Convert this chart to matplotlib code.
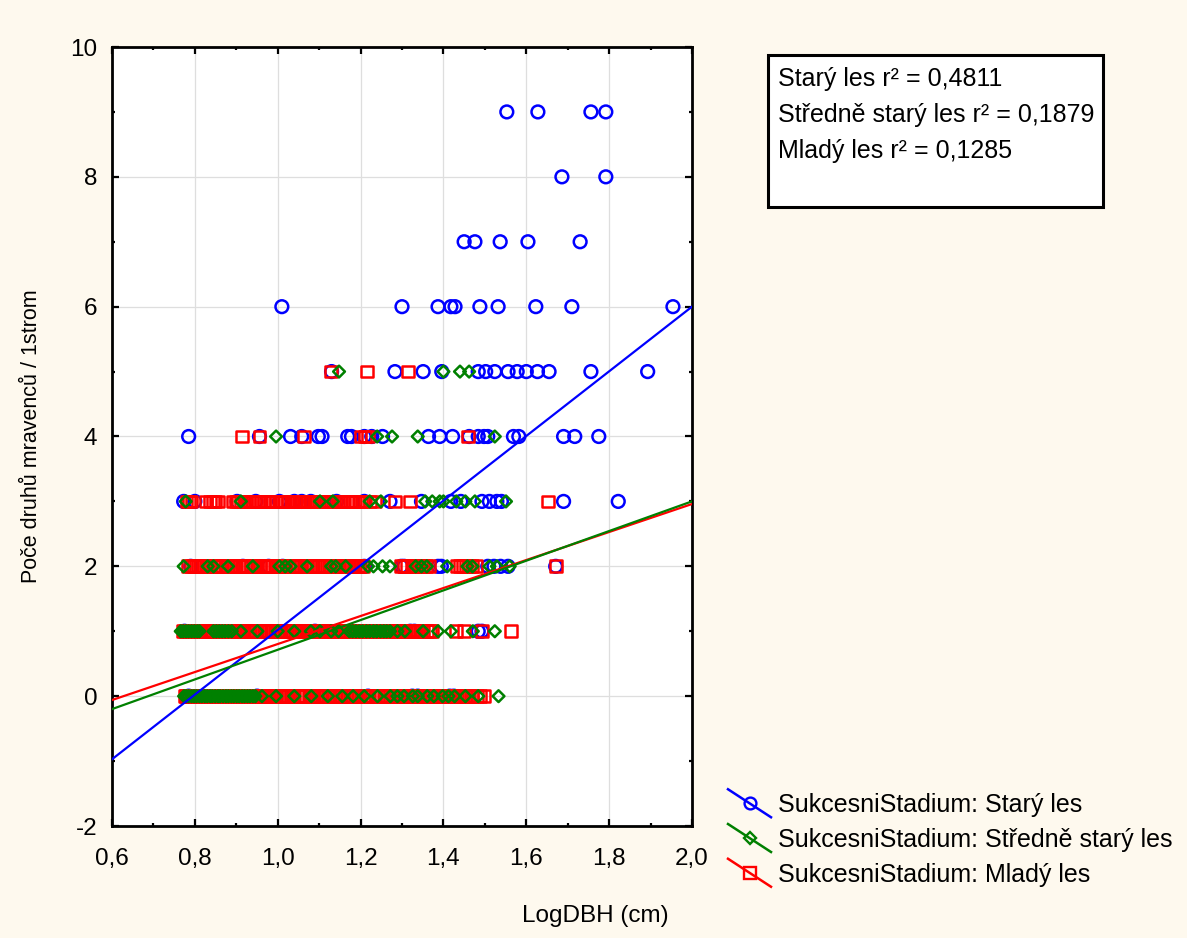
import matplotlib
matplotlib.use("Agg")
import matplotlib.pyplot as plt
from matplotlib.lines import Line2D
from matplotlib.patches import Rectangle
from matplotlib.legend_handler import HandlerBase
from matplotlib.ticker import MultipleLocator, FuncFormatter

plt.rcParams['font.family'] = ['Liberation Sans', 'DejaVu Sans']

# --- data: LogDBH values of trees, grouped by number of ant species per tree ---
stary_les = {
    0: [0.785, 0.950, 1.218, 1.325, 1.338, 1.415, 1.425],
    1: [0.775, 1.090, 1.320, 1.330, 1.484, 1.493],
    2: [0.790, 0.916, 0.978, 1.012, 1.209, 1.298, 1.305, 1.387, 1.395, 1.507,
        1.522, 1.538, 1.556, 1.671],
    3: [0.773, 0.800, 0.902, 0.947, 1.004, 1.040, 1.058, 1.080, 1.142, 1.209,
        1.271, 1.347, 1.418, 1.442, 1.493, 1.511, 1.529, 1.540, 1.690, 1.822],
    4: [0.785, 0.956, 1.031, 1.058, 1.098, 1.107, 1.169, 1.178, 1.209, 1.227,
        1.253, 1.364, 1.391, 1.422, 1.462, 1.484, 1.498, 1.507, 1.569, 1.582,
        1.690, 1.717, 1.775],
    5: [1.130, 1.283, 1.351, 1.396, 1.484, 1.502, 1.524, 1.556, 1.578, 1.600,
        1.627, 1.655, 1.756, 1.893],
    6: [1.010, 1.300, 1.387, 1.418, 1.428, 1.488, 1.532, 1.623, 1.710, 1.954],
    7: [1.450, 1.476, 1.537, 1.604, 1.730],
    8: [1.686, 1.792],
    9: [1.553, 1.628, 1.756, 1.792],
}

mlady_les = {
    0: [0.775, 0.778, 0.782, 0.786, 0.791, 0.795, 0.799, 0.803, 0.809, 0.813,
        0.818, 0.822, 0.827, 0.833, 0.837, 0.841, 0.846, 0.851, 0.858, 0.863,
        0.869, 0.874, 0.879, 0.886, 0.891, 0.897, 0.901, 0.905, 0.912, 0.919,
        0.923, 0.928, 0.934, 0.940, 0.947, 0.952, 0.958, 0.963, 0.969, 0.973,
        0.977, 0.984, 0.991, 0.996, 1.003, 1.007, 1.012, 1.018, 1.024, 1.031,
        1.038, 1.046, 1.051, 1.058, 1.063, 1.069, 1.077, 1.083, 1.089, 1.096,
        1.102, 1.108, 1.114, 1.121, 1.126, 1.132, 1.140, 1.147, 1.153, 1.161,
        1.168, 1.174, 1.180, 1.186, 1.193, 1.200, 1.207, 1.213, 1.219, 1.228,
        1.236, 1.242, 1.249, 1.258, 1.264, 1.271, 1.277, 1.283, 1.289, 1.294,
        1.300, 1.305, 1.311, 1.318, 1.323, 1.329, 1.337, 1.344, 1.351, 1.357,
        1.362, 1.368, 1.373, 1.380, 1.386, 1.392, 1.398, 1.404, 1.409, 1.415,
        1.421, 1.428, 1.437, 1.442, 1.448, 1.455, 1.462, 1.470, 1.481, 1.489,
        1.497],
    1: [0.772, 0.776, 0.780, 0.789, 0.793, 0.798, 0.806, 0.811, 0.815, 0.822,
        0.829, 0.834, 0.838, 0.844, 0.850, 0.857, 0.862, 0.866, 0.871, 0.878,
        0.883, 0.889, 0.895, 0.901, 0.907, 0.913, 0.919, 0.926, 0.931, 0.937,
        0.942, 0.948, 0.955, 0.961, 0.968, 0.973, 0.979, 0.986, 0.992, 0.999,
        1.004, 1.009, 1.017, 1.023, 1.029, 1.035, 1.041, 1.046, 1.052, 1.057,
        1.061, 1.067, 1.072, 1.078, 1.084, 1.093, 1.099, 1.105, 1.114, 1.120,
        1.127, 1.132, 1.138, 1.146, 1.152, 1.159, 1.163, 1.168, 1.174, 1.179,
        1.185, 1.191, 1.198, 1.204, 1.213, 1.219, 1.226, 1.234, 1.241, 1.247,
        1.256, 1.262, 1.268, 1.273, 1.279, 1.285, 1.291, 1.296, 1.302, 1.308,
        1.314, 1.320, 1.326, 1.333, 1.339, 1.345, 1.352, 1.360, 1.367, 1.373,
        1.431, 1.449, 1.493, 1.564],
    2: [0.784, 0.790, 0.797, 0.802, 0.808, 0.815, 0.821, 0.829, 0.836, 0.843,
        0.847, 0.852, 0.859, 0.866, 0.874, 0.880, 0.887, 0.892, 0.898, 0.906,
        0.914, 0.921, 0.929, 0.936, 0.943, 0.951, 0.957, 0.964, 0.968, 0.973,
        0.979, 0.985, 0.996, 1.002, 1.008, 1.013, 1.019, 1.027, 1.034, 1.041,
        1.049, 1.056, 1.063, 1.067, 1.072, 1.079, 1.086, 1.094, 1.100, 1.107,
        1.112, 1.118, 1.126, 1.133, 1.139, 1.148, 1.155, 1.162, 1.166, 1.171,
        1.177, 1.183, 1.188, 1.194, 1.200, 1.206, 1.298, 1.305, 1.312, 1.323,
        1.330, 1.338, 1.345, 1.352, 1.359, 1.366, 1.433, 1.440, 1.447, 1.455,
        1.462, 1.470, 1.478, 1.671],
    3: [0.780, 0.786, 0.792, 0.827, 0.836, 0.844, 0.850, 0.855, 0.893, 0.898,
        0.904, 0.911, 0.918, 0.924, 0.930, 0.937, 0.945, 0.952, 0.960, 0.967,
        0.974, 0.980, 0.987, 0.996, 1.005, 1.011, 1.018, 1.024, 1.031, 1.038,
        1.045, 1.051, 1.058, 1.064, 1.070, 1.077, 1.083, 1.089, 1.095, 1.104,
        1.116, 1.122, 1.128, 1.137, 1.146, 1.153, 1.160, 1.169, 1.178, 1.186,
        1.195, 1.202, 1.210, 1.222, 1.235, 1.284, 1.320, 1.652],
    4: [0.913, 0.956, 1.064, 1.200, 1.210, 1.218, 1.460],
    5: [1.129, 1.215, 1.314],
}

stredne_stary_les = {
    0: [0.774, 0.779, 0.785, 0.792, 0.798, 0.804, 0.811, 0.817, 0.824, 0.830,
        0.837, 0.842, 0.849, 0.856, 0.861, 0.868, 0.875, 0.881, 0.888, 0.894,
        0.901, 0.907, 0.914, 0.920, 0.927, 0.933, 0.940, 0.946, 0.962, 0.996,
        1.040, 1.081, 1.121, 1.156, 1.182, 1.209, 1.241, 1.272, 1.289, 1.305,
        1.326, 1.338, 1.361, 1.377, 1.398, 1.412, 1.427, 1.453, 1.484, 1.533],
    1: [0.766, 0.772, 0.779, 0.785, 0.792, 0.799, 0.806, 0.811, 0.845, 0.852,
        0.859, 0.866, 0.873, 0.881, 0.889, 0.911, 0.951, 1.000, 1.040, 1.080,
        1.102, 1.129, 1.147, 1.173, 1.181, 1.189, 1.197, 1.205, 1.214, 1.222,
        1.231, 1.239, 1.248, 1.256, 1.263, 1.271, 1.289, 1.307, 1.351, 1.387,
        1.418, 1.471, 1.524],
    2: [0.773, 0.831, 0.845, 0.880, 0.940, 1.004, 1.018, 1.031, 1.071, 1.129,
        1.140, 1.164, 1.218, 1.231, 1.253, 1.271, 1.333, 1.347, 1.360, 1.409,
        1.458, 1.470, 1.511, 1.529, 1.560],
    3: [0.778, 0.911, 1.102, 1.133, 1.222, 1.249, 1.356, 1.373, 1.391, 1.400,
        1.431, 1.453, 1.476, 1.551],
    4: [0.996, 1.240, 1.276, 1.338, 1.524],
    5: [1.148, 1.400, 1.440, 1.462],
}

# linear fits (intercept, slope) and r^2 per succession stage
fit_stary = (-3.96, 4.98)
fit_stredne = (-1.571, 2.286)
fit_mlady = (-1.354, 2.157)
r2_values = ["0,4811", "0,1879", "0,1285"]
stage_names = ["Starý les", "Středně starý les", "Mladý les"]

x_ticks = [0.6, 0.8, 1.0, 1.2, 1.4, 1.6, 1.8, 2.0]
y_ticks = [-2, 0, 2, 4, 6, 8, 10]

# --- styling ---
BLUE, GREEN, RED = "#0000ff", "#008000", "#ff0000"
BG = "#fef9ee"
FS_AXIS = 17.5
FS_YLABEL = 15.5
FS_TEXT = 18

fig = plt.figure(figsize=(11.87, 9.38), dpi=100, facecolor=BG)
ax = fig.add_axes([112 / 1187, 1 - 826 / 938, 580 / 1187, 779 / 938])
ax.set_facecolor("white")


def flatten(groups):
    xs, ys = [], []
    for count, vals in groups.items():
        xs.extend(vals)
        ys.extend([count] * len(vals))
    return xs, ys


series = [
    (stary_les, BLUE, "o", 84),
    (mlady_les, RED, "s", 72),
    (stredne_stary_les, GREEN, "D", 36),
]
for groups, color, marker, size in series:
    xs, ys = flatten(groups)
    ax.scatter(xs, ys, s=size, marker=marker, facecolors="none",
               edgecolors=color, linewidths=1.8, zorder=3)

line_x = [0.6, 2.0]
for (a, b), color in [(fit_stary, BLUE), (fit_mlady, RED), (fit_stredne, GREEN)]:
    ax.plot(line_x, [a + b * v for v in line_x], color=color, lw=1.6, zorder=4)

ax.set_xlim(0.6, 2.0)
ax.set_ylim(-2, 10)
ax.set_xticks(x_ticks)
ax.set_yticks(y_ticks)
ax.xaxis.set_minor_locator(MultipleLocator(0.1))
ax.yaxis.set_minor_locator(MultipleLocator(1))
ax.xaxis.set_major_formatter(FuncFormatter(lambda v, p: f"{v:.1f}".replace(".", ",")))
ax.yaxis.set_major_formatter(FuncFormatter(lambda v, p: f"{v:.0f}"))
ax.tick_params(which="both", direction="in", top=True, right=True,
               color="black", width=1.6)
ax.tick_params(which="major", length=5, labelsize=FS_AXIS)
ax.tick_params(axis="x", which="major", pad=16)
ax.tick_params(axis="y", which="major", pad=10.5)
ax.tick_params(which="minor", length=2.5)
ax.grid(True, which="major", color="#dedede", lw=0.9, zorder=0)
ax.set_axisbelow(True)
for sp in ax.spines.values():
    sp.set_linewidth(2.0)

ax.set_xlabel("LogDBH (cm)", fontsize=FS_AXIS)
ax.xaxis.set_label_coords(0.833, -0.101)
ax.set_ylabel("Poče druhů mravenců / 1strom", fontsize=FS_YLABEL)
ax.yaxis.set_label_coords(-0.121, 0.5)

# r^2 summary box
fig.patches.append(Rectangle((768 / 1187, 1 - 207 / 938), 335 / 1187, 152 / 938,
                             transform=fig.transFigure, facecolor="white",
                             edgecolor="black", lw=2.2, zorder=1))
for i, (name, r2) in enumerate(zip(stage_names, r2_values)):
    fig.text(778 / 1187, 1 - (86 + 36 * i) / 938, f"{name} r² = {r2}",
             fontsize=FS_TEXT, va="baseline", ha="left", zorder=2)


class SlantHandler(HandlerBase):
    def create_artists(self, legend, orig_handle, xdescent, ydescent,
                       width, height, fontsize, trans):
        x0, x1 = -xdescent, width - xdescent
        ym = height / 2 - ydescent
        dy = height * 0.8
        color = orig_handle.get_color()
        seg = Line2D([x0, x1], [ym + dy, ym - dy], color=color,
                     lw=orig_handle.get_linewidth())
        mk = Line2D([(x0 + x1) / 2], [ym], ls="none",
                    marker=orig_handle.get_marker(),
                    markersize=orig_handle.get_markersize(),
                    markerfacecolor="none", markeredgecolor=color,
                    markeredgewidth=1.7)
        seg.set_transform(trans)
        mk.set_transform(trans)
        return [seg, mk]


handles = [
    Line2D([], [], color=BLUE, lw=1.8, marker="o", markersize=8.5),
    Line2D([], [], color=GREEN, lw=1.8, marker="D", markersize=6.2),
    Line2D([], [], color=RED, lw=1.8, marker="s", markersize=8.5),
]
labels = [f"SukcesniStadium: {n}" for n in stage_names]
fig.legend(handles, labels, handler_map={Line2D: SlantHandler()},
           loc="upper left", bbox_to_anchor=(728 / 1187, 1 - 793 / 938),
           frameon=False, fontsize=FS_TEXT, borderpad=0, borderaxespad=0,
           handlelength=1.72, handletextpad=0.26, labelspacing=0.43)

fig.savefig("out.png", dpi=100, facecolor=BG)
